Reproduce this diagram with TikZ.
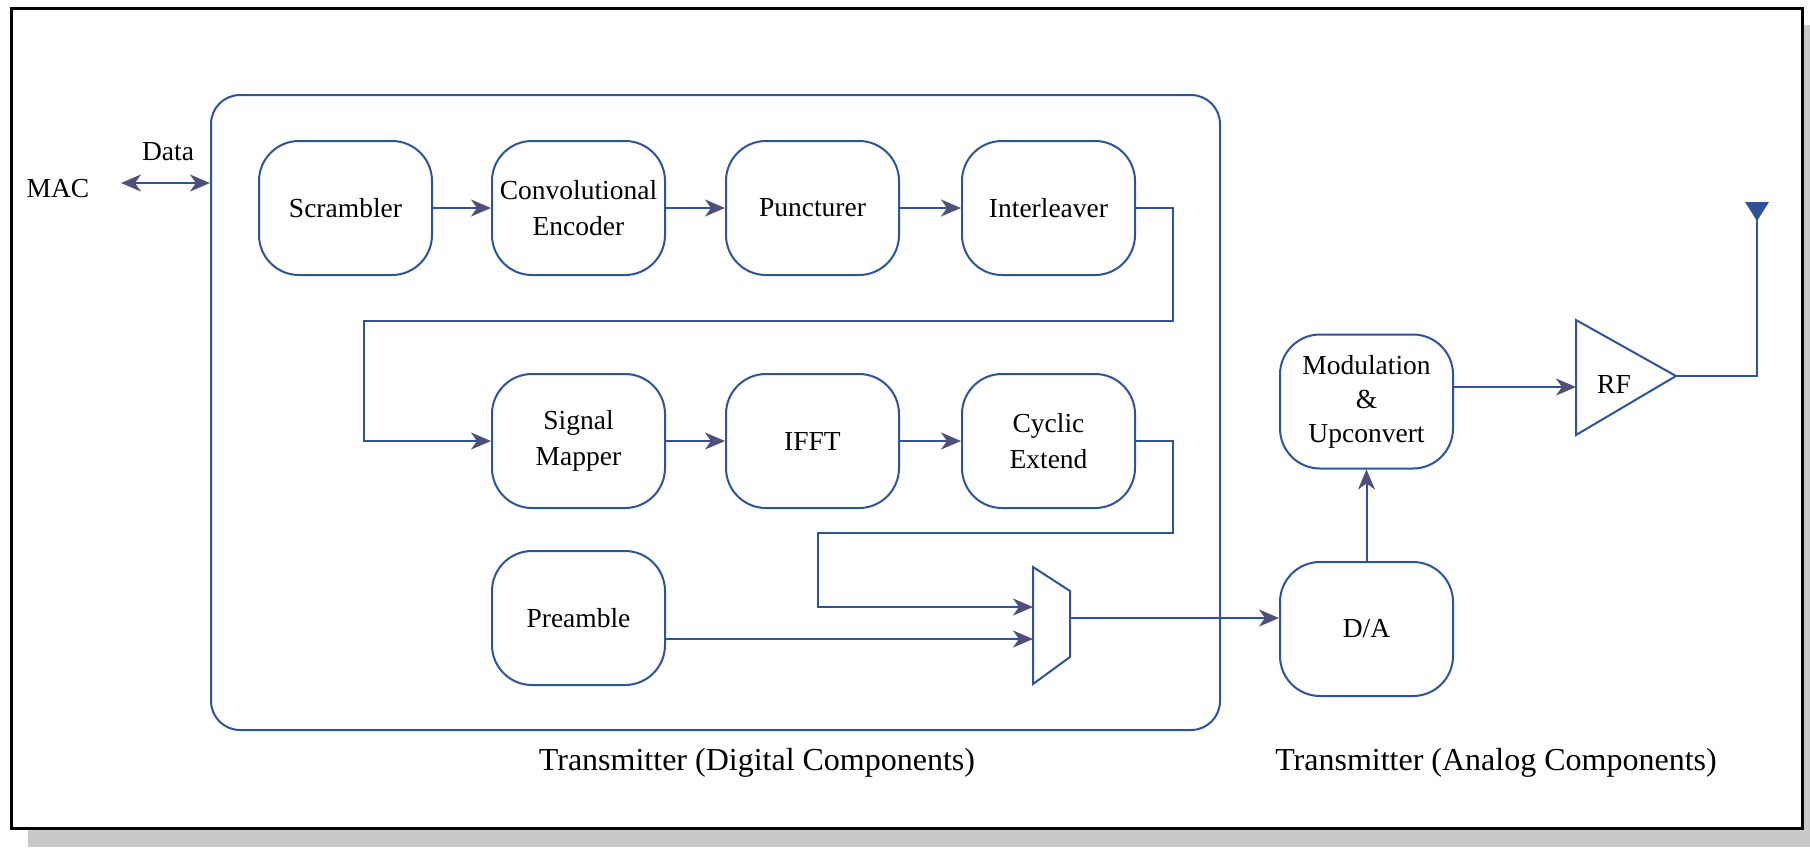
\documentclass[tikz,border=0pt]{standalone}
\usepackage{fontspec}
\setmainfont{Liberation Serif}
\usetikzlibrary{arrows.meta}
\definecolor{lineblue}{RGB}{46,83,155}
\definecolor{arrowc}{RGB}{79,79,122}
\definecolor{shadowc}{RGB}{200,200,200}
\begin{document}
\begin{tikzpicture}[x=1pt,y=-1pt,
  blk/.style={draw=lineblue, line width=2pt, rounded corners=40pt, minimum width=173pt, minimum height=134pt, align=center, inner sep=0pt, font=\fontsize{27.5}{36}\selectfont},
  conn/.style={draw=lineblue, line width=2pt, -{Stealth[length=20pt,width=17pt,inset=6pt,color=arrowc]}},
  plain/.style={draw=lineblue, line width=2pt},
  lbl/.style={inner sep=0pt, font=\fontsize{27.5}{36}\selectfont},
  captext/.style={inner sep=0pt, font=\fontsize{32}{38}\selectfont}]
\useasboundingbox (0,0) rectangle (1810,847);
\fill[shadowc] (28,25) rectangle (1810,847);
\draw[line width=3pt, fill=white] (11,8) rectangle (1802,828);

% digital container
\node[draw=lineblue, line width=2pt, rounded corners=29pt, minimum width=1009pt, minimum height=635pt, inner sep=0pt] (dig) at (715.5,412.5) {};

% blocks
\node[blk] (scr) at (345.5,208) {Scrambler};
\node[blk] (conv) at (578.5,208) {Convolutional\\Encoder};
\node[blk] (punc) at (812.5,208) {Puncturer};
\node[blk] (inter) at (1048.5,208) {Interleaver};
\node[blk] (mapper) at (578.5,441) {Signal\\Mapper};
\node[blk] (ifft) at (812.5,441) {IFFT};
\node[blk] (cyc) at (1048.5,441) {Cyclic\\Extend};
\node[blk] (pre) at (578.5,618) {Preamble};
\node[blk] (da) at (1366.5,629) {D/A};
\node[blk, font=\fontsize{27.5}{34}\selectfont] (mod) at (1366.5,401.5) {Modulation\\\&\\Upconvert};

% mux
\draw[plain, line join=miter] (1033,567) -- (1070,591) -- (1070,657) -- (1033,684) -- cycle;
\coordinate (muxin1) at (1033,607);
\coordinate (muxin2) at (1033,639);
\coordinate (muxout) at (1070,618);

% RF amplifier
\draw[plain, line join=miter] (1576,320) -- (1676,376) -- (1576,435) -- cycle;
\node[lbl] (rf) at (1614,384) {RF};
\coordinate (rfin) at (1576,387);
\coordinate (rftip) at (1676,376);

% antenna
\fill[lineblue] (1745,202) -- (1769,202) -- (1757,221) -- cycle;
\coordinate (ant) at (1757,219);

% MAC
\node[lbl] (mac) at (58,189) {MAC};
\node[lbl] (data) at (168,152) {Data};
\coordinate (macarr) at (121,183);
\draw[draw=lineblue, line width=2pt, {Stealth[length=20pt,width=17pt,inset=6pt,color=arrowc]}-{Stealth[length=20pt,width=17pt,inset=6pt,color=arrowc]}] (macarr) -- (dig.west |- macarr);

% connectors
\draw[conn] (scr) -- (conv);
\draw[conn] (conv) -- (punc);
\draw[conn] (punc) -- (inter);
\draw[conn] (inter.east) -- (1173,208) -- (1173,321) -- (364,321) |- (mapper.west);
\draw[conn] (mapper) -- (ifft);
\draw[conn] (ifft) -- (cyc);
\draw[conn] (cyc.east) -- (1173,441) -- (1173,533) -- (818,533) |- (muxin1);
\draw[conn] (pre.east |- muxin2) -- (muxin2);
\draw[conn] (muxout) -- (da.west |- muxout);
\draw[conn] (da.north) -- (mod.south);
\draw[conn] (mod.east |- rfin) -- (rfin);
\draw[plain] (rftip) -| (ant);

% captions
\node[captext] (capd) at (757,763) {Transmitter (Digital Components)};
\node[captext] (capa) at (1496,763) {Transmitter (Analog Components)};
\end{tikzpicture}
\end{document}
